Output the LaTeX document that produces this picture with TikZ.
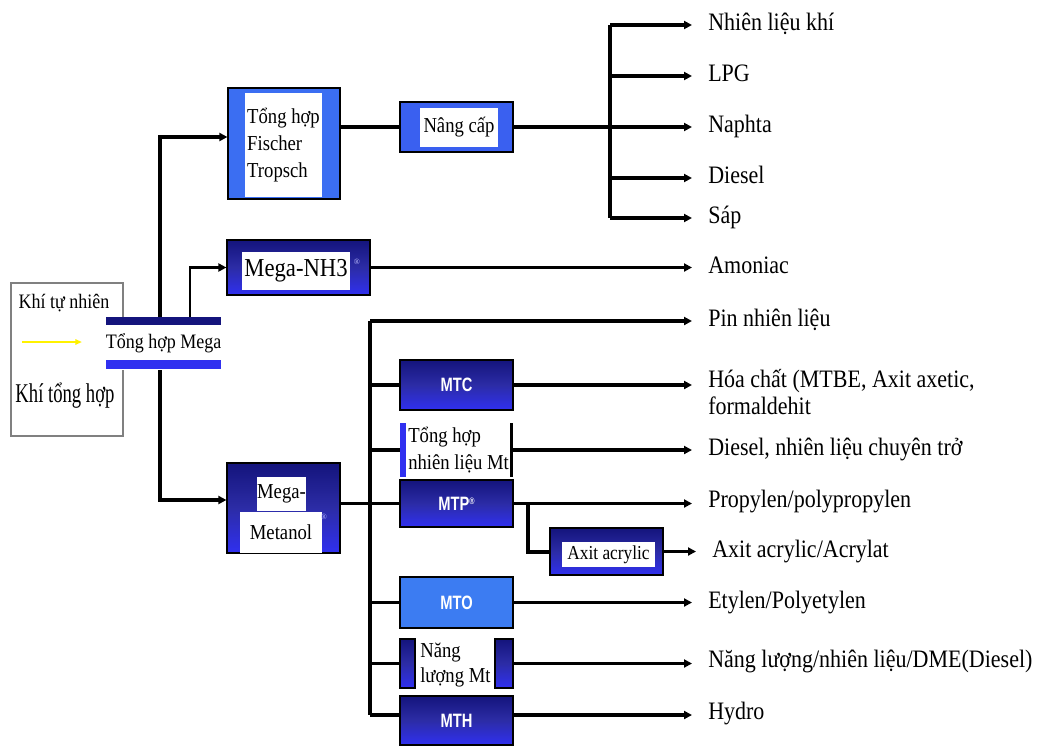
\documentclass[tikz,border=0pt]{standalone}
\usepackage{fontspec}
\setmainfont{Liberation Serif}
\setsansfont{Liberation Sans}
\usetikzlibrary{arrows.meta}
\definecolor{navyA}{HTML}{14147C}
\definecolor{navyM}{HTML}{2C2CA6}
\definecolor{navyB}{HTML}{3030F0}
\definecolor{ftblue}{HTML}{3B6EF2}
\definecolor{ncblue}{HTML}{3A60F0}
\definecolor{moblue}{HTML}{3C7CF2}
\definecolor{srcgray}{HTML}{808080}
\newcommand{\mtxt}[1]{\textcolor{white}{\scalebox{0.76}[1]{\fontsize{14.5}{16}\selectfont\sffamily\bfseries #1}}}
\newcommand{\tl}[1]{\scalebox{1}[1.14]{#1}}
\begin{document}
\begin{tikzpicture}[x=0.75pt,y=-0.75pt,
  conn/.style={line width=2.5pt},
  arrb/.style={conn,-{Triangle[length=6pt,width=6pt]}},
  arrl/.style={conn,-{Triangle[length=6pt,width=6pt]},shorten >=12pt},
  lab/.style={anchor=west,inner sep=0pt,font=\fontsize{16.5}{20}\selectfont,text height=12.5pt,text depth=3.8pt},
  lab2/.style={anchor=west,inner sep=0pt,font=\fontsize{16.5}{20}\selectfont,align=left},
  navy/.style={draw=black,line width=0.9pt,top color=navyA,bottom color=navyB,middle color=navyM,inner sep=0pt,minimum width=84.75pt},
  plainbox/.style={draw=black,line width=0.9pt,inner sep=0pt,minimum width=84.75pt},
  wtext/.style={fill=white,inner sep=0pt,font=\fontsize{14}{20}\selectfont}
]
\useasboundingbox (0,0) rectangle (1041,746);

% source box
\node[draw=srcgray,line width=1pt,fill=white,minimum width=84pt,minimum height=114.75pt,inner sep=0pt] (src) at (67,359.5) {};
\node[inner sep=0pt,font=\fontsize{13.5}{16}\selectfont] (tn) at (64,303) {\tl{Khí tự nhiên}};
\coordinate (ya) at (22,342);
\coordinate (yb) at (82,342);
\draw[yellow,line width=1.3pt,-{Triangle[length=5pt,width=4pt]}] (ya) -- (yb);
\node[inner sep=0pt,font=\fontsize{14}{16}\selectfont] (kth) at (65,396) {\scalebox{1}[1.45]{Khí tổng hợp}};

% Mega synthesis
\node[fill=white,inner sep=0pt,minimum width=84.75pt,minimum height=39.75pt,
  path picture={\fill[navyA] (path picture bounding box.north west) rectangle ([yshift=-6pt]path picture bounding box.north east);
  \fill[navyB] ([yshift=7.5pt]path picture bounding box.south west) rectangle ([yshift=0.5pt]path picture bounding box.south east);},
  font=\fontsize{13.5}{16}\selectfont] (mega) at (163.5,343.5) {\tl{Tổng hợp Mega}};

% Fischer Tropsch
\node[plainbox,fill=ftblue,minimum width=84pt,minimum height=83.25pt] (ft) at (284,143.5) {};
\node[wtext,minimum width=57.75pt,minimum height=78pt,align=left] (ftin) at (283.5,145) {\tl{Tổng hợp}\\\tl{Fischer}\\\tl{Tropsch}};

% Nang cap
\node[plainbox,fill=ncblue,minimum height=37.5pt] (nc) at (456.5,127) {};
\node[wtext,minimum width=58.5pt,minimum height=29.25pt] (ncin) at (459,127.5) {\tl{Nâng cấp}};

% Mega-NH3
\node[navy,minimum width=107.25pt,minimum height=41.25pt] (nh3) at (298.5,267.5) {};
\node[wtext,minimum width=81pt,minimum height=28.5pt,font=\fontsize{17}{20}\selectfont] (nh3in) at (296,271) {\tl{Mega-NH3}};
\node[inner sep=0pt,text=white!75!blue,font=\fontsize{6}{7}\selectfont] (nh3r) at (357,262) {®};

% Mega-Metanol
\node[navy,minimum height=67.5pt] (meth) at (283.5,508) {};
\node[wtext,minimum width=36.75pt,minimum height=25.5pt] (methA) at (281.5,494) {\tl{Mega-}};
\node[wtext,minimum width=61.5pt,minimum height=30.75pt] (methB) at (281,532.5) {\tl{Metanol}};
\node[inner sep=0pt,text=white!70!blue,font=\fontsize{6}{7}\selectfont] (methr) at (324,517) {®};

% methanol products
\node[navy,minimum height=37.5pt] (mtc) at (456.5,385) {\mtxt{MTC}};
\node[inner sep=0pt,minimum width=84.75pt,minimum height=40.5pt,fill=white,
  path picture={\fill[navyB] (path picture bounding box.north west) rectangle ([xshift=4.5pt]path picture bounding box.south west);
  \fill[black] ([xshift=-2.2pt]path picture bounding box.north east) rectangle (path picture bounding box.south east);}] (tnl) at (456.5,450) {};
\node[anchor=west,inner sep=0pt,align=left,font=\fontsize{14}{20}\selectfont] (tnltxt) at (408,450) {\tl{Tổng hợp}\\\tl{nhiên liệu Mt}};
\node[navy,minimum height=35.25pt] (mtp) at (456.5,503.5) {\mtxt{MTP\raisebox{0.55ex}{\fontsize{7}{8}\selectfont ®}}};
\node[navy,minimum height=35.25pt] (aa) at (606.5,551.5) {};
\node[wtext,minimum width=69.75pt,minimum height=18.75pt,font=\fontsize{13}{15}\selectfont] (aain) at (608.5,554.5) {\tl{Axit acrylic}};
\node[plainbox,fill=moblue,minimum height=38.25pt] (mto) at (456.5,602.5) {\mtxt{MTO}};
\node[inner sep=0pt,minimum width=84.75pt,minimum height=36.75pt] (nlmt) at (456.5,663.5) {};
\node[navy,minimum width=11.25pt,minimum height=36.75pt] (nlL) at (407.5,663.5) {};
\node[navy,minimum width=13.5pt,minimum height=36.75pt] (nlR) at (504,663.5) {};
\node[anchor=west,inner sep=0pt,align=left,font=\fontsize{14}{19}\selectfont] (nltxt) at (420,665) {\tl{Năng}\\\tl{lượng Mt}};
\node[navy,minimum height=36.75pt] (mth) at (456.5,720.5) {\mtxt{MTH}};

% output labels
\node[lab] (o1) at (708,25) {\tl{Nhiên liệu khí}};
\node[lab] (o2) at (708,76) {\tl{LPG}};
\node[lab] (o3) at (708,127) {\tl{Naphta}};
\node[lab] (o4) at (708,178) {\tl{Diesel}};
\node[lab] (o5) at (708,218) {\tl{Sáp}};
\node[lab] (o6) at (708,267.5) {\tl{Amoniac}};
\node[lab] (o7) at (708,321) {\tl{Pin nhiên liệu}};
\node[lab2] (o8) at (708,392) {\tl{Hóa chất (MTBE, Axit axetic,}\\\tl{formaldehit}};
\node[lab] (o9) at (708,450) {\tl{Diesel, nhiên liệu chuyên trở}};
\node[lab] (o10) at (708,502) {\tl{Propylen/polypropylen}};
\node[lab] (o11) at (712,552) {\tl{Axit acrylic/Acrylat}};
\node[lab] (o12) at (708,603) {\tl{Etylen/Polyetylen}};
\node[lab] (o13) at (708,662) {\tl{Năng lượng/nhiên liệu/DME(Diesel)}};
\node[lab] (o14) at (708,714) {\tl{Hydro}};

% connectors from Mega synthesis
\draw[arrb] ([xshift=-2.625pt]mega.north) |- ([yshift=4.875pt]ft.west);
\draw[line width=1.6pt,-{Triangle[length=6pt,width=6pt]}] ([xshift=19.875pt]mega.north) |- (nh3.west);
\draw[arrb] ([xshift=-2.625pt]mega.south) |- ([yshift=6pt]meth.west);

% FT branch
\coordinate (hub1) at (610,127);
\coordinate (h1t) at (610,25);
\coordinate (h1b) at (610,218);
\draw[conn] (ft.east |- nc.west) -- (nc.west);
\draw[conn] (nc.east) -- (hub1);
\draw[conn] (h1t) -- (h1b);
\draw[arrl] (o1.west -| hub1) -- (o1.west);
\draw[arrl] (o2.west -| hub1) -- (o2.west);
\draw[arrl] (o3.west -| hub1) -- (o3.west);
\draw[arrl] (o4.west -| hub1) -- (o4.west);
\draw[arrl] (o5.west -| hub1) -- (o5.west);

% NH3
\draw[arrl] (nh3.east) -- (nh3.east -| o6.west);

% methanol trunk
\coordinate (t1) at (370,321);
\coordinate (t2) at (370,715);
\draw[conn] (t1) -- (t2);
\draw[arrl] (t1) -- (t1 -| o7.west);
\draw[conn] (meth.east |- mtp.west) -- (mtp.west);
\draw[conn] (mtc.west -| t1) -- (mtc.west);
\draw[arrl] (mtc.east) -- (mtc.east -| o8.west);
\draw[conn] (tnl.west -| t1) -- (tnl.west);
\draw[arrl] (tnl.east) -- (tnl.east -| o9.west);
\draw[arrl] (mtp.east) -- (mtp.east -| o10.west);
\coordinate (aab) at (528,503.5);
\draw[line width=3pt] (aab) |- (aa.west);
\draw[arrl] (aa.east) -- (aa.east -| o11.west);
\draw[conn] (mto.west -| t1) -- (mto.west);
\draw[arrl] (mto.east) -- (mto.east -| o12.west);
\draw[conn] (nlmt.west -| t1) -- (nlL.west);
\draw[arrl] (nlR.east) -- (nlR.east -| o13.west);
\draw[conn] (t2) -- (t2 -| mth.west);
\draw[arrl] (t2 -| mth.east) -- (t2 -| o14.west);
\end{tikzpicture}
\end{document}
